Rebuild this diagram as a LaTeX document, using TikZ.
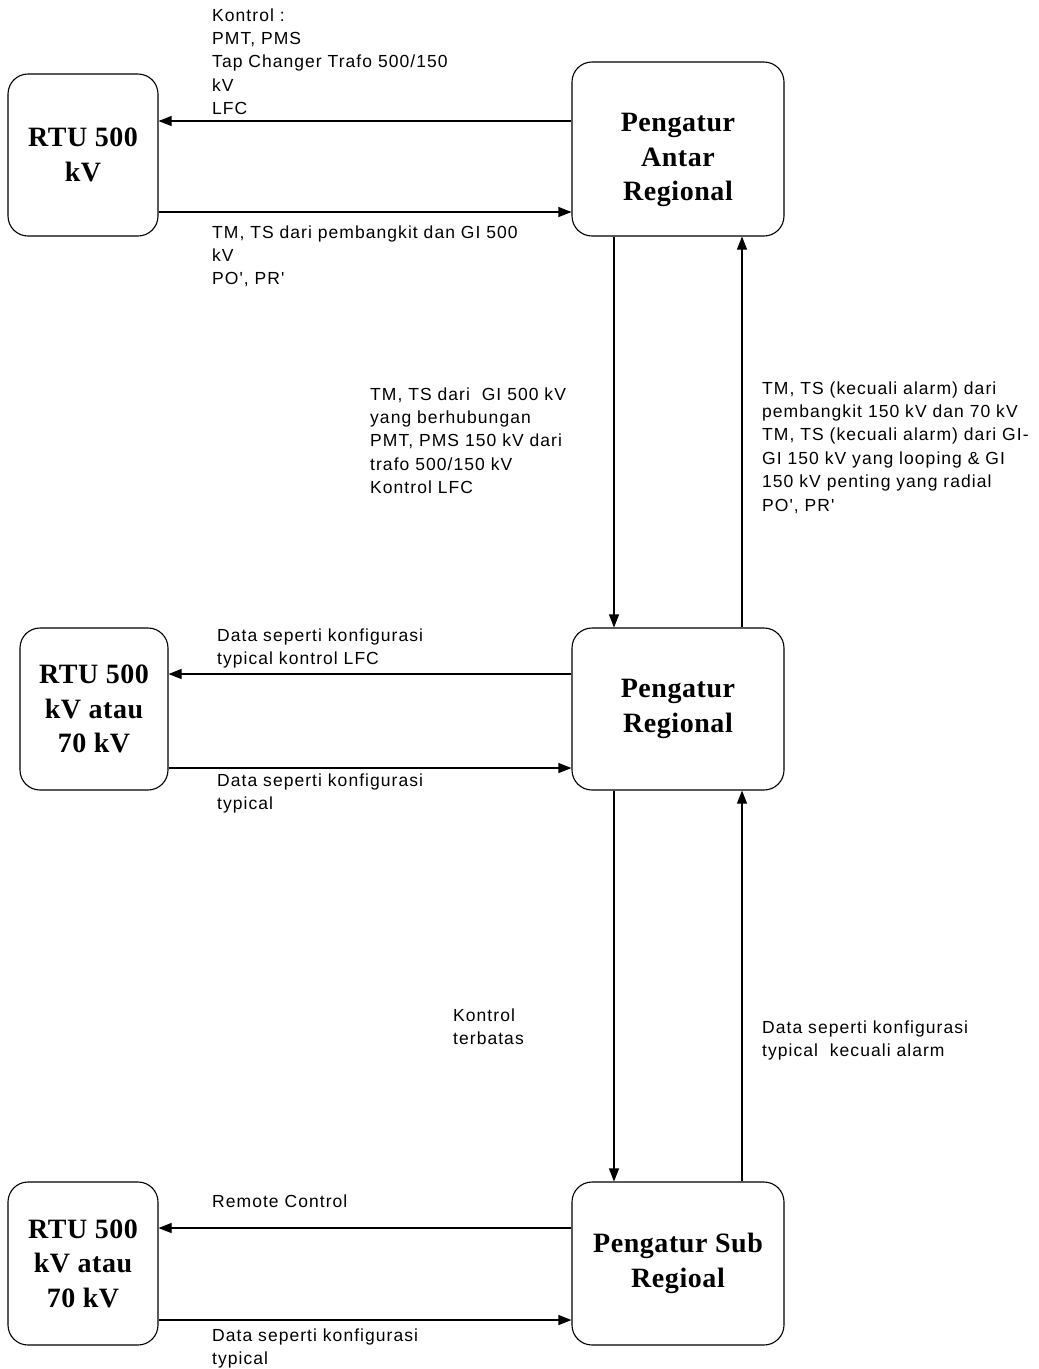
\documentclass[tikz,border=0pt]{standalone}
\usepackage{fontspec}
\setmainfont{Liberation Serif}
\newfontfamily\lblfont{Liberation Sans}[LetterSpace=6]
\newfontfamily\boxfont{Liberation Serif}[LetterSpace=2]
\usetikzlibrary{positioning, arrows.meta}

\begin{document}
\begin{tikzpicture}[
    x=1pt, y=-1pt,
    >={Triangle[length=13pt, width=10pt]},
    unit/.style={draw, rounded corners=20pt, line width=1.1pt, align=center,
                 font=\boxfont\bfseries\fontsize{28}{34.5}\selectfont},
    boxtxt/.style={align=center, inner sep=0pt,
                   font=\boxfont\bfseries\fontsize{28}{34.5}\selectfont},
    rtu/.style={unit, minimum width=150pt, minimum height=162pt},
    ctrl/.style={unit, minimum width=212pt, minimum height=162pt},
    arr/.style={->, line width=1.1pt},
    lbl/.style={anchor=base west, inner sep=0pt, align=left,
                font=\lblfont\fontsize{17.5}{23.4}\selectfont},
]
\useasboundingbox (0,0) rectangle (1039,1369);

% ══════════════════════════════════════
%  LEFT COLUMN: RTU
% ══════════════════════════════════════

\node[rtu] (rtu500) at (83,155) {RTU 500\\kV};
\node[rtu, minimum width=148pt] (rtureg) at (94,709) {RTU 500\\kV atau\\70 kV};
\node[rtu, minimum height=163pt] (rtusub) at (83,1263.5) {RTU 500\\kV atau\\70 kV};

% ══════════════════════════════════════
%  RIGHT COLUMN: Pengatur
% ══════════════════════════════════════

\node[ctrl, minimum height=174pt] (antar) at (678,149) {};
\node[boxtxt] at ([yshift=-11pt]antar.center) {Pengatur\\Antar\\Regional};
\node[ctrl] (regional) at (678,709) {Pengatur\\Regional};
\node[ctrl, minimum height=163pt] (subreg) at (678,1263.5) {Pengatur Sub\\Regioal};

% ══════════════════════════════════════
%  ARROWS
% ══════════════════════════════════════

% Antar Regional <-> RTU 500 kV
\coordinate (antar_in) at ([yshift=28pt]antar.west);
\coordinate (antar_out) at ([yshift=-63pt]antar.west);
\draw[arr] (antar_in) -- (antar_in -| rtu500.east);
\draw[arr] (antar_out -| rtu500.east) -- (antar_out);

% Regional <-> RTU
\coordinate (reg_in) at ([yshift=35pt]regional.west);
\coordinate (reg_out) at ([yshift=-59pt]regional.west);
\draw[arr] (reg_in) -- (reg_in -| rtureg.east);
\draw[arr] (reg_out -| rtureg.east) -- (reg_out);

% Sub Regional <-> RTU
\coordinate (sub_in) at ([yshift=35.5pt]subreg.west);
\coordinate (sub_out) at ([yshift=-56.5pt]subreg.west);
\draw[arr] (sub_in) -- (sub_in -| rtusub.east);
\draw[arr] (sub_out -| rtusub.east) -- (sub_out);

% Vertical links
\draw[arr] ([xshift=-64pt]antar.south) -- ([xshift=-64pt]regional.north);
\draw[arr] ([xshift=64pt]regional.north) -- ([xshift=64pt]antar.south);
\draw[arr] ([xshift=-64pt]regional.south) -- ([xshift=-64pt]subreg.north);
\draw[arr] ([xshift=64pt]subreg.north) -- ([xshift=64pt]regional.south);

% ══════════════════════════════════════
%  LABELS (anchored at last baseline)
% ══════════════════════════════════════

\node[lbl] (l_ctrl) at (212,114.6)
    {Kontrol :\\PMT, PMS\\Tap Changer Trafo 500/150\\kV\\LFC};
\node[lbl] (l_tm) at (212,284.8)
    {TM, TS dari pembangkit dan GI 500\\kV\\PO', PR'};
\node[lbl] (l_down1) at (370,493.6)
    {TM, TS dari~~GI 500 kV\\yang berhubungan\\PMT, PMS 150 kV dari\\trafo 500/150 kV\\Kontrol LFC};
\node[lbl] (l_up1) at (762,511)
    {TM, TS (kecuali alarm) dari\\pembangkit 150 kV dan 70 kV\\TM, TS (kecuali alarm) dari GI-\\GI 150 kV yang looping \& GI\\150 kV penting yang radial\\PO', PR'};
\node[lbl] (l_reg_in) at (217,664.4)
    {Data seperti konfigurasi\\typical kontrol LFC};
\node[lbl] (l_reg_out) at (217,809.4)
    {Data seperti konfigurasi\\typical};
\node[lbl] (l_down2) at (453,1044.4) {Kontrol\\terbatas};
\node[lbl] (l_up2) at (762,1056.4)
    {Data seperti konfigurasi\\typical~~kecuali alarm};
\node[lbl] (l_sub_in) at (212,1207) {Remote Control};
\node[lbl] (l_sub_out) at (212,1364.4)
    {Data seperti konfigurasi\\typical};

\end{tikzpicture}
\end{document}
